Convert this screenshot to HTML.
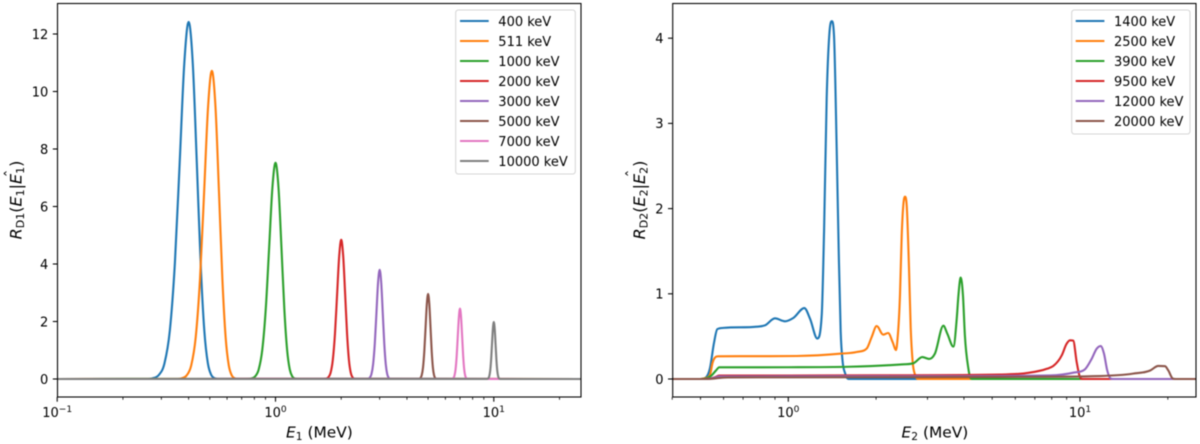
<!DOCTYPE html>
<html lang="en">
<head>
<meta charset="utf-8">
<title>Detector response functions</title>
<style>
html,body{margin:0;padding:0;background:#fff;width:1200px;height:444px;overflow:hidden}
svg{display:block;font-family:"DejaVu Sans","Liberation Sans",sans-serif;fill:#000;filter:blur(0.4px)}
</style>
</head>
<body>
<svg id="figure" width="1200" height="444" viewBox="0 0 1200 444" xmlns="http://www.w3.org/2000/svg">
  <rect x="0" y="0" width="1200" height="444" fill="#fff"/>
  <g id="left-panel"></g>
  <g id="right-panel"></g>
  <text x="286" y="437.5" font-size="15.4"><tspan font-style="italic">E</tspan><tspan font-size="10.7" dy="2.5">1</tspan><tspan dy="-2.5"> (MeV)</tspan></text>
  <text x="901.5" y="437.5" font-size="15.4"><tspan font-style="italic">E</tspan><tspan font-size="10.7" dy="2.5">2</tspan><tspan dy="-2.5"> (MeV)</tspan></text>
  <text transform="translate(21.5,200) rotate(-90)" text-anchor="middle" font-size="16"><tspan font-style="italic">R</tspan><tspan font-size="11" dy="2.5">D1</tspan><tspan dy="-2.5">(</tspan><tspan font-style="italic">E</tspan><tspan font-size="11" dy="2.5">1</tspan><tspan dy="-2.5">|</tspan><tspan font-style="italic">E</tspan><tspan font-size="11" dy="2.5">1</tspan><tspan dy="-2.5">)</tspan></text>
  <text transform="translate(16,173.5) rotate(-90)" text-anchor="middle" font-size="15">ˆ</text>
  <text transform="translate(645,200) rotate(-90)" text-anchor="middle" font-size="16"><tspan font-style="italic">R</tspan><tspan font-size="11" dy="2.5">D2</tspan><tspan dy="-2.5">(</tspan><tspan font-style="italic">E</tspan><tspan font-size="11" dy="2.5">2</tspan><tspan dy="-2.5">|</tspan><tspan font-style="italic">E</tspan><tspan font-size="11" dy="2.5">2</tspan><tspan dy="-2.5">)</tspan></text>
  <text transform="translate(637.5,173.5) rotate(-90)" text-anchor="middle" font-size="15">ˆ</text>
</svg>
<script>
// ---- shared tick data ----
const majorExponents = [-1, 0, 1];
const exponentLabels = ['\u22121', '0', '1'];
const minorTicksLeft = [0.2,0.3,0.4,0.5,0.6,0.7,0.8,0.9,2,3,4,5,6,7,8,9,20];
const minorTicksRight = [0.4,0.5,0.6,0.7,0.8,0.9,2,3,4,5,6,7,8,9,20];
const yTicksLeft = [0,2,4,6,8,10,12];
const yTicksRight = [0,1,2,3,4];
const colors = ['#1f77b4','#ff7f0e','#2ca02c','#d62728','#9467bd','#8c564b','#e377c2','#7f7f7f'];

// ---- left panel data (energy MeV / response) ----
const leftLabels = ['400 keV','511 keV','1000 keV','2000 keV','3000 keV','5000 keV','7000 keV','10000 keV'];
const e400 = [0.1,.256,.274,.292,.31,.328,.346,.364,.382,.4,.418,.436,.454,.472,.49,.508,.526,.544,25];
const r400 = [0,.004,.027,.138,.545,1.68,4.03,7.53,10.96,12.42,10.96,7.53,4.03,1.68,.545,.138,.027,.004,0];
const e511 = [0.1,.351,.371,.391,.411,.431,.451,.471,.491,.511,.531,.551,.571,.591,.611,.631,.651,.671,25];
const r511 = [0,.003,.024,.119,.471,1.45,3.48,6.5,9.46,10.72,9.46,6.5,3.48,1.45,.471,.119,.024,.003,0];
const e1000 = [0.1,.74,.7725,.805,.8375,.87,.9025,.935,.9675,1,1.0325,1.065,1.0975,1.13,1.1625,1.195,1.2275,1.26,25];
const r1000 = [0,.002,.017,.083,.33,1.02,2.44,4.56,6.64,7.52,6.64,4.56,2.44,1.02,.33,.083,.017,.002,0];
const e2000 = [0.1,1.66,1.7025,1.745,1.7875,1.83,1.8725,1.915,1.9575,2,2.0425,2.085,2.1275,2.17,2.2125,2.255,2.2975,2.34,25];
const r2000 = [0,.001,.011,.054,.212,.655,1.57,2.94,4.27,4.84,4.27,2.94,1.57,.655,.212,.054,.011,.001,0];
const e3000 = [0.1,2.6,2.65,2.7,2.75,2.8,2.85,2.9,2.95,3,3.05,3.1,3.15,3.2,3.25,3.3,3.35,3.4,25];
const r3000 = [0,.001,.008,.042,.167,.514,1.23,2.3,3.35,3.8,3.35,2.3,1.23,.514,.167,.042,.008,.001,0];
const e5000 = [0.1,4.48,4.545,4.61,4.675,4.74,4.805,4.87,4.935,5,5.065,5.13,5.195,5.26,5.325,5.39,5.455,5.52,25];
const r5000 = [0,.001,.007,.033,.13,.4,.961,1.8,2.61,2.96,2.61,1.8,.961,.4,.13,.033,.007,.001,0];
const e7000 = [0.1,6.36,6.44,6.52,6.6,6.68,6.76,6.84,6.92,7,7.08,7.16,7.24,7.32,7.4,7.48,7.56,7.64,25];
const r7000 = [0,.001,.005,.027,.108,.331,.796,1.49,2.16,2.45,2.16,1.49,.796,.331,.108,.027,.005,.001,0];
const e10000 = [0.1,9.24,9.335,9.43,9.525,9.62,9.715,9.81,9.905,10,10.095,10.19,10.285,10.38,10.475,10.57,10.665,10.76,25];
const r10000 = [0,.001,.004,.022,.087,.268,.643,1.2,1.75,1.98,1.75,1.2,.643,.268,.087,.022,.004,.001,0];

// ---- right panel data (energy MeV / response) ----
const rightLabels = ['1400 keV','2500 keV','3900 keV','9500 keV','12000 keV','20000 keV'];
const e1400 = [.4,.498,.518,.539,.556,.571,.6,.779,.832,.9,.974,1.04,1.135,1.187,1.257,1.302,1.326,1.354,1.382,1.409,1.434,1.465,1.488,1.512,1.536,1.565,1.606,25];
const r1400 = [0,0,.01,.13,.42,.585,.6,.614,.63,.712,.677,.716,.833,.708,.475,.75,1.73,3.3,4.04,4.2,4.04,2.71,1.54,.555,.2,.07,0,0];
const e2500 = [.4,.498,.518,.539,.55,.575,.8,1.068,1.504,1.715,1.856,1.93,2.009,2.115,2.2,2.28,2.34,2.37,2.415,2.448,2.479,2.512,2.546,2.593,2.628,2.669,2.72,2.78,25];
const r2500 = [0,0,.01,.05,.19,.266,.268,.27,.297,.317,.356,.49,.622,.52,.54,.43,.34,.48,.99,1.69,2.04,2.14,2.04,1.3,.6,.2,.05,0,0];
const e3900 = [.4,.5,.52,.545,.565,.58,1,2.41,2.68,2.88,3.04,3.18,3.4,3.51,3.68,3.78,3.83,3.9,3.97,4.03,4.14,4.2,4.28,25];
const r3900 = [0,0,.005,.04,.1,.137,.138,.17,.184,.258,.235,.297,.626,.53,.38,.71,.98,1.19,.98,.516,.13,.02,0,0];
const e9500 = [.4,.5,.54,.56,.58,1,2,5.32,6.56,7.7,8.1,8.66,9,9.24,9.48,9.74,10,10.2,25];
const r9500 = [0,0,.005,.02,.04,.041,.043,.052,.07,.12,.153,.278,.414,.454,.45,.2,.02,0,0];
const e12000 = [.4,.5,.54,.56,.58,1,3,7.9,9.48,10.4,10.97,11.41,11.77,12.08,12.4,12.74,12.98,25];
const r12000 = [0,0,.004,.015,.03,.031,.033,.042,.074,.114,.238,.356,.387,.3,.1,.005,0,0];
const e20000 = [.4,.5,.55,.58,.62,1,5,11.7,15.2,17.4,18.55,19.56,20.08,20.8,21.3,25];
const r20000 = [0,0,.004,.012,.018,.02,.024,.035,.063,.1,.153,.15,.1,.005,0,0];

const SVGNS = 'http://www.w3.org/2000/svg';
function mk(parent, tag, attrs, txt){
  const el = document.createElementNS(SVGNS, tag);
  for (const k in attrs) el.setAttribute(k, attrs[k]);
  if (txt !== undefined) el.textContent = txt;
  parent.appendChild(el);
  return el;
}
// Shape-preserving cubic path through pixel points
function smoothPath(pts){
  const n = pts.length, d = [], m = [];
  for (let i = 0; i < n-1; i++) d.push((pts[i+1][1]-pts[i][1])/(pts[i+1][0]-pts[i][0]));
  m.push(d[0]);
  for (let i = 1; i < n-1; i++){
    if (d[i-1]*d[i] <= 0) { m.push(0); continue; }
    const h0 = pts[i][0]-pts[i-1][0], h1 = pts[i+1][0]-pts[i][0];
    const p = (d[i-1]*h1+d[i]*h0)/(h0+h1);
    const lim = 3*Math.min(Math.abs(d[i-1]), Math.abs(d[i]));
    m.push(Math.sign(p)*Math.min(Math.abs(p), lim));
  }
  m.push(d[n-2]);
  let s = 'M'+pts[0][0].toFixed(2)+' '+pts[0][1].toFixed(2);
  for (let i = 0; i < n-1; i++){
    const h = (pts[i+1][0]-pts[i][0])/3;
    s += 'C'+(pts[i][0]+h).toFixed(2)+' '+(pts[i][1]+h*m[i]).toFixed(2)+' '+
         (pts[i+1][0]-h).toFixed(2)+' '+(pts[i+1][1]-h*m[i+1]).toFixed(2)+' '+
         pts[i+1][0].toFixed(2)+' '+pts[i+1][1].toFixed(2);
  }
  return s;
}

function drawPanel(root, cfg){
  const xs = e => cfg.x0 + cfg.xDecade*Math.log10(e);
  const ys = r => cfg.y0 - cfg.yUnit*r;

  // series
  cfg.series.forEach((pair, i) => {
    const pts = pair[0].map((e, k) => [xs(e), ys(pair[1][k])]);
    const line = mk(root, 'path', {d: smoothPath(pts), fill:'none', stroke:colors[i], 'stroke-width':2.1, 'stroke-linejoin':'round'});
    
    
  });

  // x major ticks
  majorExponents.forEach((ex, i) => {
    const px = xs(Math.pow(10, ex));
    if (px < cfg.left - 1) return;
    const t = mk(root, 'line', {x1:px, x2:px, y1:cfg.bottom, y2:cfg.bottom+4.7, stroke:'#000', 'stroke-width':1.07});
    
    
    const lab = mk(root, 'text', {x:px, y:417, 'text-anchor':'middle', 'font-size':13});
    
    
    mk(lab, 'tspan', {}, '10');
    mk(lab, 'tspan', {'font-size':9.1, dy:-5}, exponentLabels[i]);
  });
  // x minor ticks
  cfg.minor.forEach(v => {
    const px = xs(v);
    const t = mk(root, 'line', {x1:px, x2:px, y1:cfg.bottom, y2:cfg.bottom+2.7, stroke:'#000', 'stroke-width':0.8});
    
    
  });
  // y ticks
  cfg.yTicks.forEach(v => {
    const py = ys(v);
    const t = mk(root, 'line', {x1:cfg.left-4.7, x2:cfg.left, y1:py, y2:py, stroke:'#000', 'stroke-width':1.07});
    
    
    const lab = mk(root, 'text', {x:cfg.left-9.2, y:py+4.8, 'text-anchor':'end', 'font-size':13}, String(v));
    
    
  });
  // frame
  const frame = mk(root, 'rect', {x:cfg.left, y:cfg.top, width:cfg.right-cfg.left, height:cfg.bottom-cfg.top, fill:'none', stroke:'#000', 'stroke-width':1.07});
  
  

  // legend
  const lg = mk(root, 'g', {});
  
  
  mk(lg, 'rect', {x:cfg.legend.x, y:10, width:cfg.legend.w, height:cfg.legend.h, rx:2.6, fill:'#fff', 'fill-opacity':0.8, stroke:'#ccc', 'stroke-opacity':0.8, 'stroke-width':1.07});
  cfg.labels.forEach((label, i) => {
    const row = mk(lg, 'g', {});
    
    
    const yy = 21 + 20*i;
    mk(row, 'line', {x1:cfg.legend.hx, x2:cfg.legend.hx+28.7, y1:yy, y2:yy, stroke:colors[i], 'stroke-width':2});
    mk(row, 'text', {x:cfg.legend.tx, y:yy+4.8, 'font-size':13}, label);
  });
}

drawPanel(document.getElementById('left-panel'), {
  x0:275.5, xDecade:218.3, y0:379, yUnit:28.75,
  left:57.5, right:581, top:3.5, bottom:397,
  minor:minorTicksLeft, yTicks:yTicksLeft, labels:leftLabels,
  series:[[e400,r400],[e511,r511],[e1000,r1000],[e2000,r2000],[e3000,r3000],[e5000,r5000],[e7000,r7000],[e10000,r10000]],
  legend:{x:455.7, w:119.6, h:164, hx:460, tx:498.3}
});
drawPanel(document.getElementById('right-panel'), {
  x0:788.3, xDecade:291.7, y0:379, yUnit:85.2,
  left:672.7, right:1196, top:3.5, bottom:397,
  minor:minorTicksRight, yTicks:yTicksRight, labels:rightLabels,
  series:[[e1400,r1400],[e2500,r2500],[e3900,r3900],[e9500,r9500],[e12000,r12000],[e20000,r20000]],
  legend:{x:1071.7, w:118.3, h:124, hx:1075.7, tx:1114}
});
</script>
</body>
</html>
